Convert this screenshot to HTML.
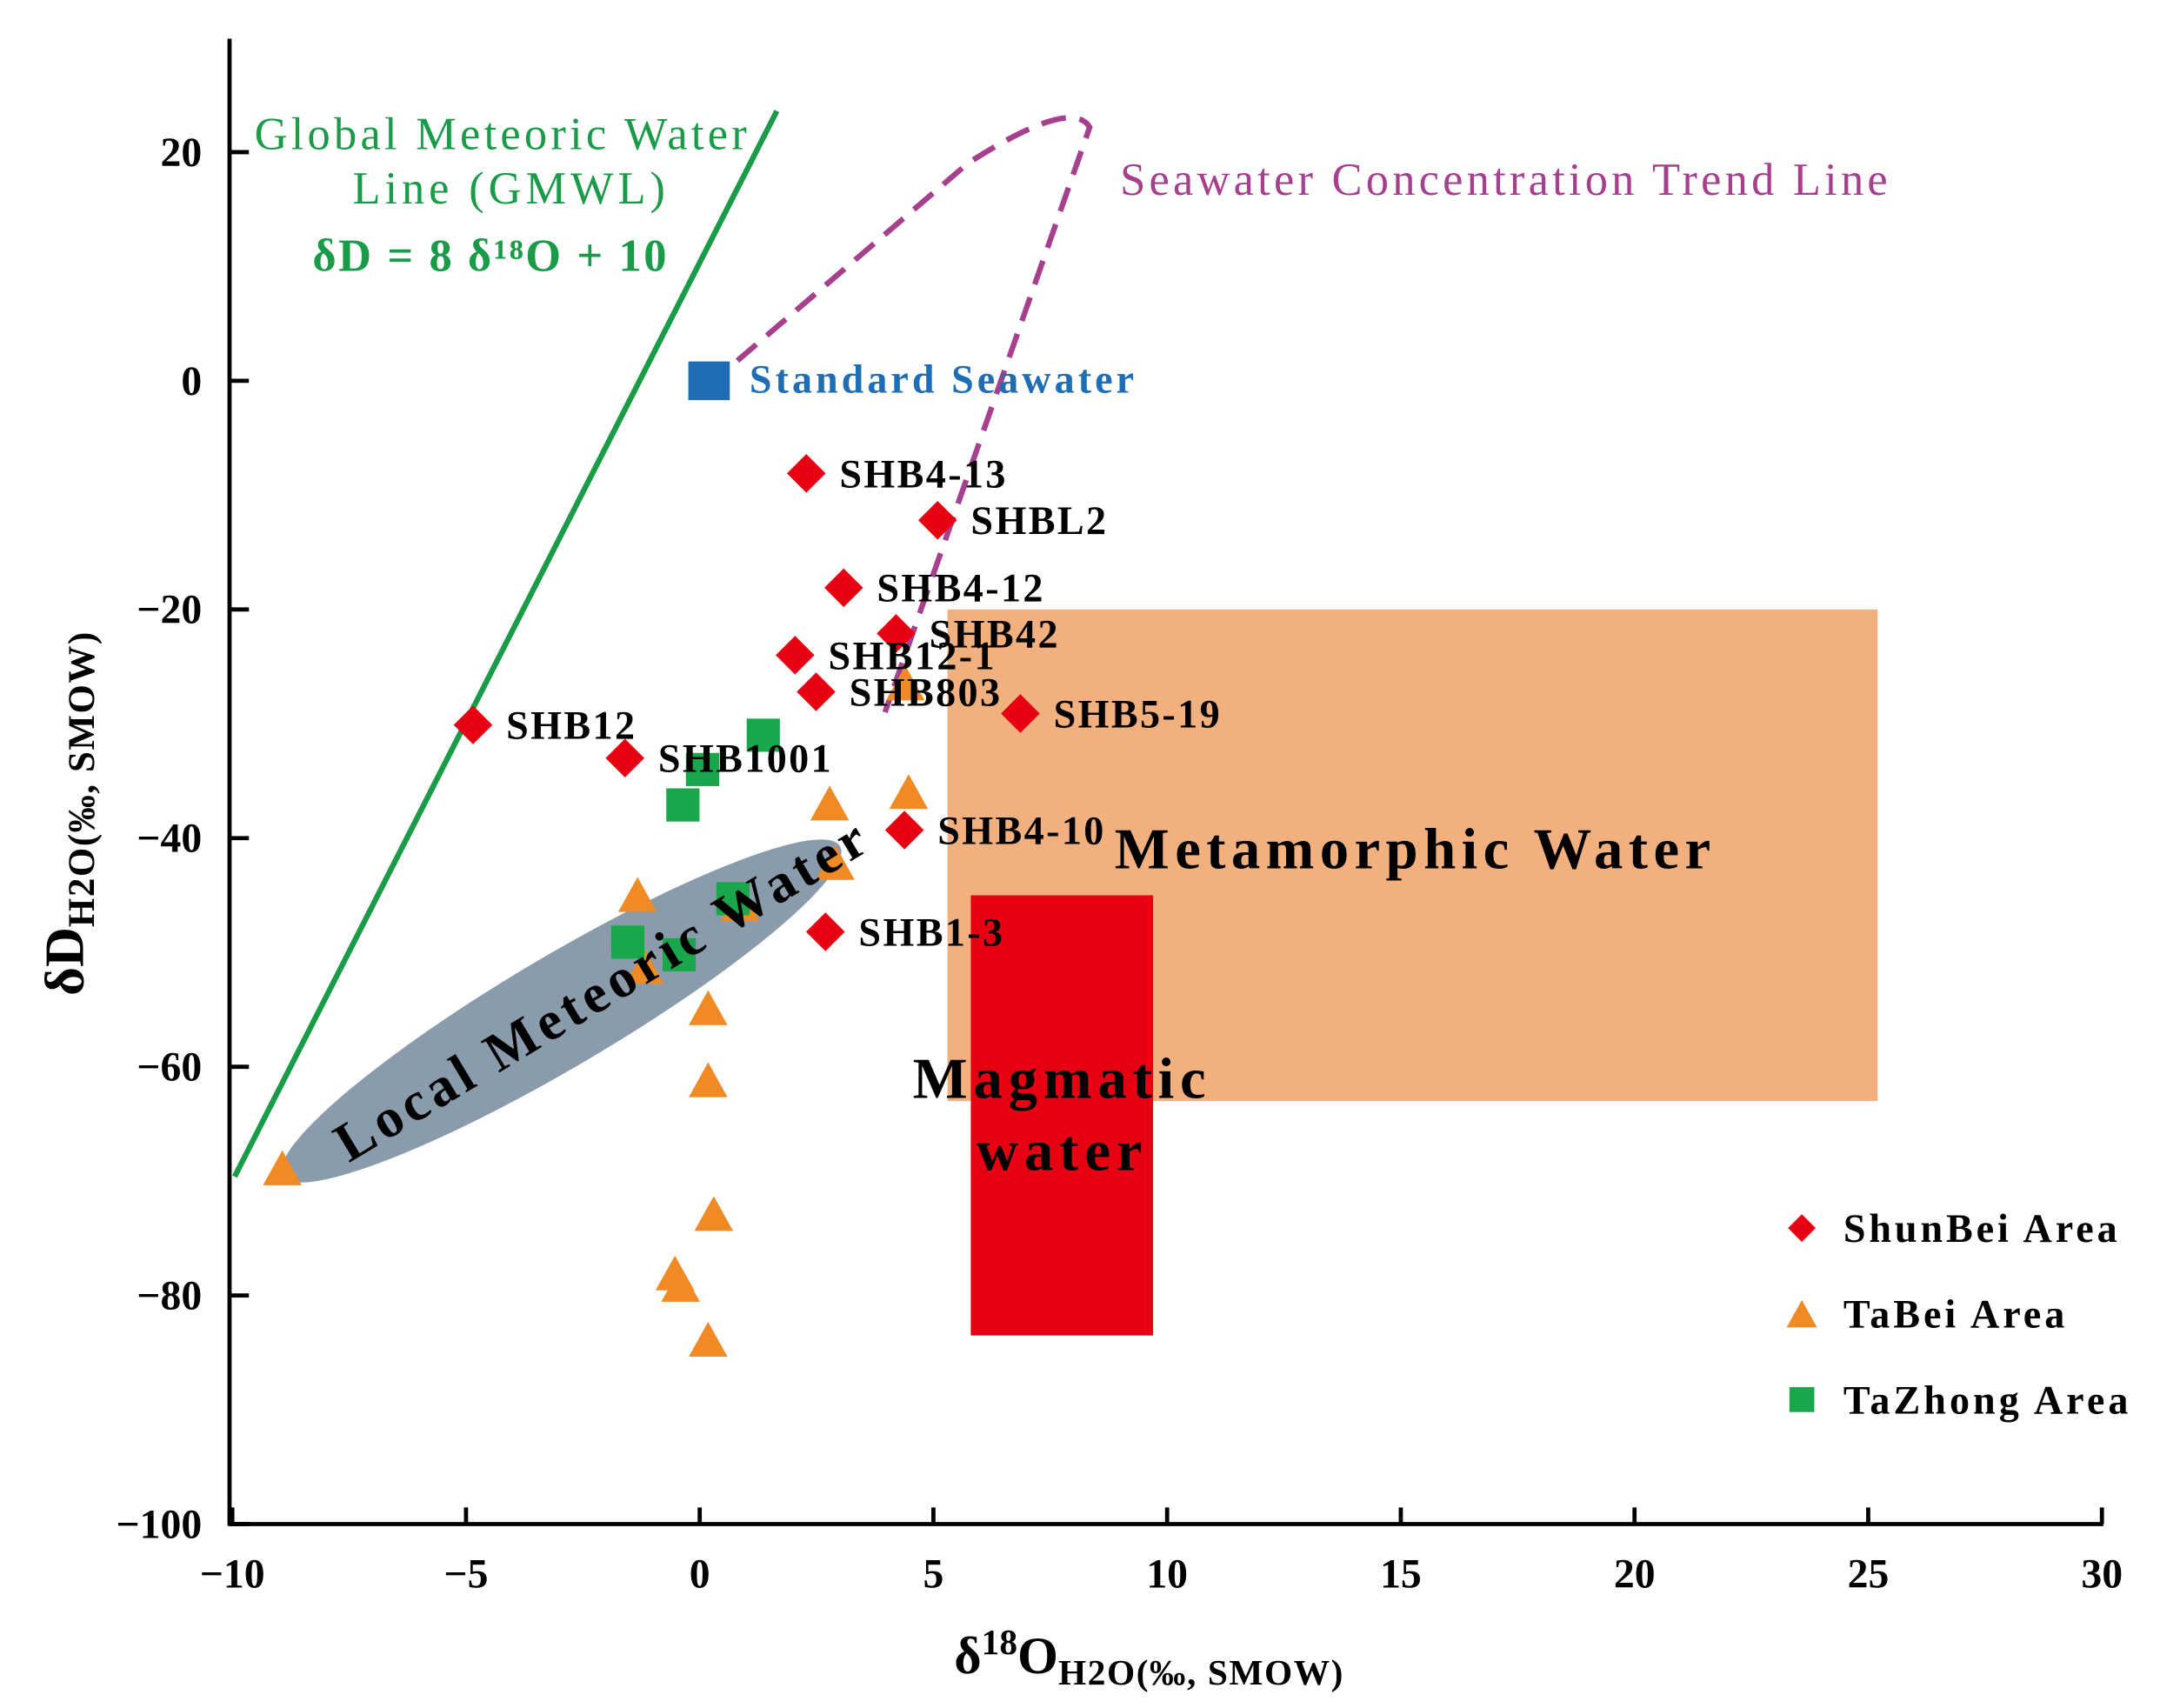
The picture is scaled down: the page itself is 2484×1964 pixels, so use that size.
<!DOCTYPE html>
<html><head><meta charset="utf-8"><style>
html,body{margin:0;padding:0;background:#fff}
svg{display:block}
text{font-family:"Liberation Serif",serif}
</style></head><body>
<svg id="chart" width="2484" height="1964" viewBox="0 0 1562 1235" preserveAspectRatio="none" xmlns="http://www.w3.org/2000/svg">
<g id="regions"></g>
<g id="axes"></g>
<g id="marks"></g>
<g id="labels"></g>
</svg>
<script>
const xTicks=[-10,-5,0,5,10,15,20,25,30];
const yTicks=[20,0,-20,-40,-60,-80,-100];
const shunbeiNames=["SHB4-13","SHBL2","SHB4-12","SHB42","SHB12-1","SHB803","SHB5-19","SHB12","SHB1001","SHB4-10","SHB1-3"];
const shunbeiX=[2.28,5.09,3.08,4.2,2.04,2.49,6.86,-4.85,-1.6,4.38,2.69];
const shunbeiY=[-8.1,-12.2,-18.1,-22.1,-24,-27.2,-29.1,-30.1,-33,-39.3,-48.2];
const tabeiX=[-8.93,-1.33,-1.18,2.78,4.47,2.9,0.86,0.18,0.18,0.3,-0.53,-0.41,0.18,4.4];
const tabeiY=[-69,-45.1,-51.4,-37.1,-36.1,-42.3,-45.9,-55,-61.3,-73,-78.2,-79.2,-84,-26.6];
const tazhongX=[1.36,0.06,-0.36,-1.54,-0.44,0.71];
const tazhongY=[-31,-34,-37.1,-49.1,-50.2,-45.3];
const X=v=>168+33.8*(v+10);
const Y=v=>110+8.267*(20-v);
const NS="http://www.w3.org/2000/svg";
function mk(parent,tag,attrs,text){const e=document.createElementNS(NS,tag);for(const k in attrs)e.setAttribute(k,attrs[k]);if(text!==undefined)e.textContent=text;document.getElementById(parent).appendChild(e);return e;}
let r=mk('regions','rect',{x:X(5.3),y:Y(-20),width:X(25.2)-X(5.3),height:Y(-63)-Y(-20),fill:'#f2b07e'});


r=mk('regions','rect',{x:X(5.8),y:Y(-45),width:X(9.7)-X(5.8),height:Y(-83.5)-Y(-45),fill:'#e60012'});


r=mk('regions','ellipse',{cx:406,cy:731,rx:234,ry:40,transform:'rotate(-30.6 406 731)',fill:'#8a9cab'});


r=mk('regions','line',{x1:X(-9.95),y1:Y(-69.6),x2:X(1.65),y2:Y(23.6),stroke:'#1a9b48','stroke-width':4});


r=mk('regions','path',{d:'M512,279 L700,118 Q775,70 788,92 L640,515',fill:'none',stroke:'#a63f8e','stroke-width':4,'stroke-dasharray':'18,10'});


r=mk('axes','line',{x1:166,y1:28,x2:166,y2:1103,stroke:'#000','stroke-width':3});


r=mk('axes','line',{x1:165,y1:1102,x2:1521,y2:1102,stroke:'#000','stroke-width':3});


xTicks.forEach(v=>{
 mk('axes','line',{x1:X(v),y1:1102,x2:X(v),y2:1090,stroke:'#000','stroke-width':3});
 const t=mk('axes','text',{x:X(v),y:1148,'text-anchor':'middle','font-size':30,'font-weight':'bold'},v<0?'−'+(-v):String(v));
 
 
});
yTicks.forEach(v=>{
 mk('axes','line',{x1:166,y1:Y(v),x2:180,y2:Y(v),stroke:'#000','stroke-width':3});
 const t=mk('axes','text',{x:146,y:Y(v)+10,'text-anchor':'end','font-size':30,'font-weight':'bold'},v<0?'−'+(-v):String(v));
 
 
});
function diamond(cx,cy,s){return `${cx},${cy-s} ${cx+s},${cy} ${cx},${cy+s} ${cx-s},${cy}`;}
function tri(cx,cy,s){return `${cx},${cy-s} ${cx+s},${cy+s*0.8} ${cx-s},${cy+s*0.8}`;}
tabeiX.forEach((v,i)=>{const p=mk('marks','polygon',{points:tri(X(v),Y(tabeiY[i]),14),fill:'#f08a24'});
 
 });
tazhongX.forEach((v,i)=>{const p=mk('marks','rect',{x:X(v)-12,y:Y(tazhongY[i])-12,width:24,height:24,fill:'#1aa64b'});
 
 });
shunbeiX.forEach((v,i)=>{const p=mk('marks','polygon',{points:diamond(X(v),Y(shunbeiY[i]),14),fill:'#e60012'});
 
 
 const t=mk('marks','text',{x:X(v)+24,y:Y(shunbeiY[i])+10,'font-size':29,'font-weight':'bold','letter-spacing':1.5},shunbeiNames[i]);
 
 });
r=mk('marks','rect',{x:X(0.2)-15,y:Y(0)-14,width:30,height:28,fill:'#1f6db5'});


function lab(x,y,txt,size,fill,name,extra){const t=mk('labels','text',Object.assign({x:x,y:y,'font-size':size,fill:fill},extra||{}),txt);
 
 return t;}
lab(184,108,'Global Meteoric Water',33,'#1a9b48','gmwl-title',{textLength:356,lengthAdjust:'spacing'});
lab(255,147,'Line (GMWL)',33,'#1a9b48','gmwl-title-2',{textLength:226,lengthAdjust:'spacing'});
lab(226,196,'δD = 8 δ¹⁸O + 10',33,'#1a9b48','gmwl-equation',{'font-weight':'bold',textLength:256,lengthAdjust:'spacing'});
lab(810,141,'Seawater Concentration Trend Line',33,'#a63f8e','seawater-trend-label',{textLength:555,lengthAdjust:'spacing'});
lab(542,284,'Standard Seawater',29,'#1f6db5','standard-seawater-label',{'font-weight':'bold',textLength:278,lengthAdjust:'spacing'});
lab(806,628,'Metamorphic Water',42,'#000','metamorphic-water-label',{'font-weight':'bold',textLength:431,lengthAdjust:'spacing'});
lab(660,794,'Magmatic',42,'#000','magmatic-label',{'font-weight':'bold',textLength:212,lengthAdjust:'spacing'});
lab(706,846,'water',42,'#000','magmatic-label-2',{'font-weight':'bold',textLength:120,lengthAdjust:'spacing'});
lab(218,745,'Local Meteoric Water',40,'#000','local-meteoric-label',{'font-weight':'bold',textLength:440,lengthAdjust:'spacing',transform:'rotate(-31 408 731)'});
lab(690,1210,'',38,'#000','x-axis-title',{'font-weight':'bold'}).innerHTML='δ<tspan font-size="26" dy="-14">18</tspan><tspan dy="14">O</tspan><tspan font-size="26" dy="8" letter-spacing="1">H2O(‰, SMOW)</tspan>';
lab(60,588,'',40,'#000','y-axis-title',{'font-weight':'bold','text-anchor':'middle',transform:'rotate(-90 60 588)'}).innerHTML='δD<tspan font-size="27" dy="8" letter-spacing="1">H2O(‰, SMOW)</tspan>';
const legN=['ShunBei Area','TaBei Area','TaZhong Area'];
const legW=[198,160,206];
let p=mk('labels','polygon',{points:diamond(1303,888,10),fill:'#e60012'});


p=mk('labels','polygon',{points:tri(1303,951,11),fill:'#f08a24'});


p=mk('labels','rect',{x:1294,y:1003,width:18,height:18,fill:'#1aa64b'});


legN.forEach((n,i)=>lab(1333,898+i*62,n,29,'#000','legend-entry',{'font-weight':'bold',textLength:legW[i],lengthAdjust:'spacing'}));
</script>
</body></html>
